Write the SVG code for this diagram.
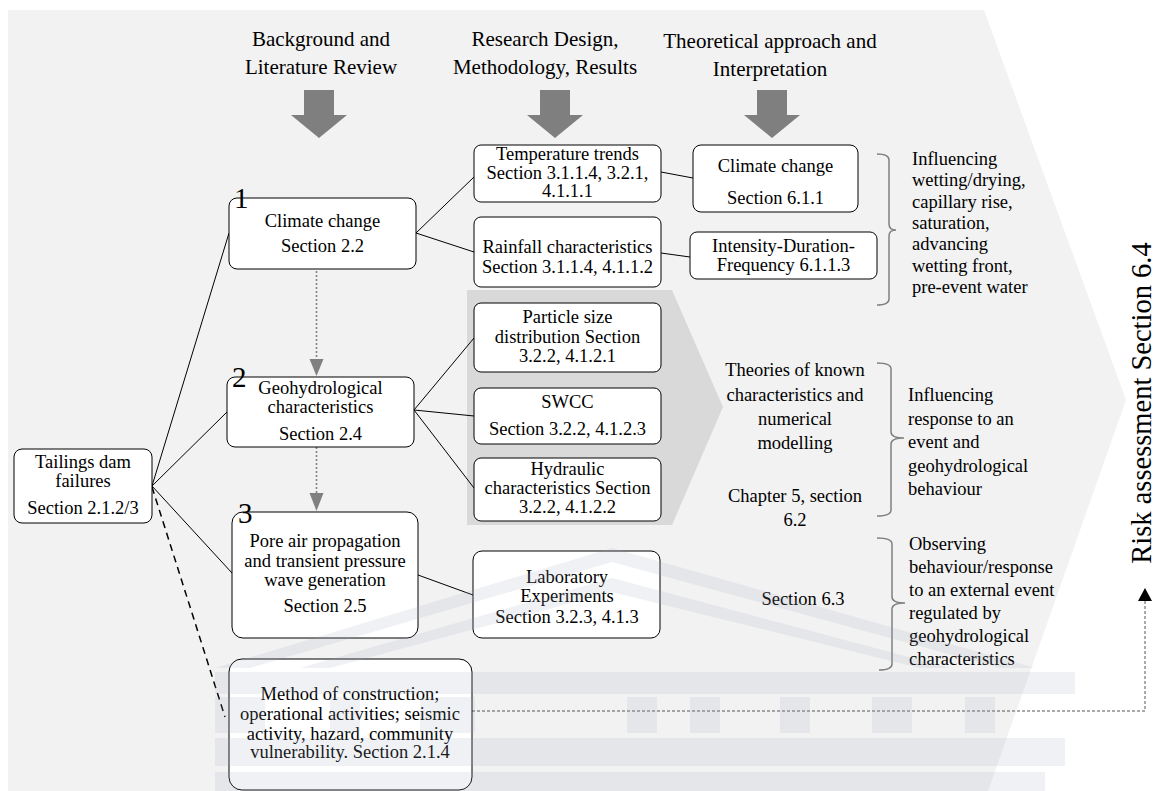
<svg xmlns="http://www.w3.org/2000/svg" width="1155" height="791" viewBox="0 0 1155 791">
<style>
text{font-family:"Liberation Serif","Times New Roman",Times,"DejaVu Serif","Noto Serif",serif;fill:#000}
.h{font-size:21px;text-anchor:middle}
.n{font-size:18.5px;text-anchor:middle}
.t{font-size:18.5px}
.num{font-size:29px}
.box{fill:#fff;stroke:#000;stroke-width:1}
.ln{stroke:#000;stroke-width:1;fill:none}
.br{stroke:#808080;stroke-width:1.5;fill:none}
.dot{stroke:#808080;stroke-width:1.6;stroke-dasharray:2 2;fill:none}
.bigarrow{fill:#7f7f7f}
.wm{fill:#a3a8bd;opacity:0.16}
</style>
<defs>
<path id="ba" d="M-15,0 H15 V25 H28 L0,48 L-28,25 H-15 Z"/>
</defs>
<rect width="1155" height="791" fill="#fff"/>
<polygon points="8,10 984,10 1126,400 988,791 8,791" fill="#f2f2f2"/>
<polygon points="467,290 672,290 723,407 672,525 467,525" fill="#d9d9d9"/>

<g id="headers" font-family="Liberation Serif, serif">
<text class="h" x="321" y="46">Background and</text>
<text class="h" x="321" y="74">Literature Review</text>
<text class="h" x="545" y="46">Research Design,</text>
<text class="h" x="545" y="74">Methodology, Results</text>
<text class="h" x="770" y="48">Theoretical approach and</text>
<text class="h" x="770" y="76">Interpretation</text>
<use href="#ba" class="bigarrow" x="319" y="90"/>
<use href="#ba" class="bigarrow" x="555" y="90"/>
<use href="#ba" class="bigarrow" x="772" y="90"/>
</g>

<g id="connectors">
<line class="ln" x1="152" y1="486" x2="229" y2="233"/>
<line class="ln" x1="152" y1="486" x2="227" y2="412"/>
<line class="ln" x1="152" y1="486" x2="232" y2="573"/>
<line x1="152" y1="487" x2="225" y2="717" stroke="#000" stroke-width="1.5" stroke-dasharray="7 5"/>
<line class="ln" x1="416" y1="233" x2="474" y2="177"/>
<line class="ln" x1="416" y1="233" x2="474" y2="252"/>
<line class="ln" x1="414" y1="410" x2="474" y2="338"/>
<line class="ln" x1="414" y1="410" x2="474" y2="416"/>
<line class="ln" x1="414" y1="410" x2="474" y2="488"/>
<line class="ln" x1="661" y1="172" x2="693" y2="178"/>
<line class="ln" x1="661" y1="253" x2="690" y2="257"/>
<line class="ln" x1="418" y1="575" x2="473" y2="595"/>
<line class="dot" x1="316.5" y1="271" x2="316.5" y2="360"/>
<polygon points="309.5,359 323.5,359 316.5,376" fill="#808080"/>
<line class="dot" x1="316.5" y1="447" x2="316.5" y2="494"/>
<polygon points="309.5,493 323.5,493 316.5,511" fill="#808080"/>
<polyline points="472,711 1145,711 1145,600" fill="none" stroke="#555" stroke-width="1" stroke-dasharray="3 2"/>
<polygon points="1138,601 1152,601 1145,588" fill="#000"/>
</g>

<g id="node-tailings">
<rect class="box" x="14" y="449" width="138" height="74" rx="8"/>
<text class="n" x="83" y="468">Tailings dam</text>
<text class="n" x="83" y="487">failures</text>
<text class="n" x="83" y="514">Section 2.1.2/3</text>
</g>
<g id="node-climate">
<rect class="box" x="229" y="198" width="187" height="71" rx="8"/>
<text class="n" x="322.5" y="227">Climate change</text>
<text class="n" x="322.5" y="252">Section 2.2</text>
<text class="num" x="234" y="208">1</text>
</g>
<g id="node-geo">
<rect class="box" x="227" y="377" width="187" height="70" rx="8"/>
<text class="n" x="320.5" y="394">Geohydrological</text>
<text class="n" x="320.5" y="413">characteristics</text>
<text class="n" x="320.5" y="440">Section 2.4</text>
<text class="num" x="232" y="387">2</text>
</g>
<g id="node-pore">
<rect class="box" x="232" y="512" width="186" height="126" rx="11"/>
<text class="n" x="325" y="547">Pore air propagation</text>
<text class="n" x="325" y="567">and transient pressure</text>
<text class="n" x="325" y="586">wave generation</text>
<text class="n" x="325" y="612">Section 2.5</text>
<text class="num" x="238" y="523">3</text>
</g>
<g id="node-method">
<rect class="box" x="229" y="659" width="243" height="131" rx="13"/>
<text class="n" x="350" y="700">Method of construction;</text>
<text class="n" x="350" y="720">operational activities; seismic</text>
<text class="n" x="350" y="740">activity, hazard, community</text>
<text class="n" x="350" y="758">vulnerability. Section 2.1.4</text>
</g>
<g id="node-temp">
<rect class="box" x="474" y="145" width="187" height="57" rx="7"/>
<text class="n" x="567.5" y="160">Temperature trends</text>
<text class="n" x="567.5" y="179">Section 3.1.1.4, 3.2.1,</text>
<text class="n" x="567.5" y="197">4.1.1.1</text>
</g>
<g id="node-rain">
<rect class="box" x="474" y="217" width="187" height="70" rx="7"/>
<text class="n" x="567.5" y="253">Rainfall characteristics</text>
<text class="n" x="567.5" y="273">Section 3.1.1.4, 4.1.1.2</text>
</g>
<g id="node-psd">
<rect class="box" x="474" y="303" width="187" height="69" rx="7"/>
<text class="n" x="567.5" y="323">Particle size</text>
<text class="n" x="567.5" y="343">distribution Section</text>
<text class="n" x="567.5" y="362">3.2.2, 4.1.2.1</text>
</g>
<g id="node-swcc">
<rect class="box" x="474" y="388" width="187" height="56" rx="7"/>
<text class="n" x="567.5" y="408">SWCC</text>
<text class="n" x="567.5" y="435">Section 3.2.2, 4.1.2.3</text>
</g>
<g id="node-hyd">
<rect class="box" x="474" y="458" width="187" height="63" rx="7"/>
<text class="n" x="567.5" y="475">Hydraulic</text>
<text class="n" x="567.5" y="494">characteristics Section</text>
<text class="n" x="567.5" y="513">3.2.2, 4.1.2.2</text>
</g>
<g id="node-lab">
<rect class="box" x="473" y="551" width="187" height="87" rx="9"/>
<text class="n" x="567" y="583">Laboratory</text>
<text class="n" x="567" y="602">Experiments</text>
<text class="n" x="567" y="623">Section 3.2.3, 4.1.3</text>
</g>
<g id="node-cc2">
<rect class="box" x="693" y="145" width="165" height="67" rx="8"/>
<text class="n" x="775.5" y="172">Climate change</text>
<text class="n" x="775.5" y="204">Section 6.1.1</text>
</g>
<g id="node-idf">
<rect class="box" x="690" y="232" width="187" height="47" rx="7"/>
<text class="n" x="783.5" y="252">Intensity-Duration-</text>
<text class="n" x="783.5" y="271">Frequency 6.1.1.3</text>
</g>

<g id="theory-text">
<text class="n" x="795" y="376">Theories of known</text>
<text class="n" x="795" y="401">characteristics and</text>
<text class="n" x="795" y="425">numerical</text>
<text class="n" x="795" y="449">modelling</text>
<text class="n" x="795" y="502">Chapter 5, section</text>
<text class="n" x="795" y="526">6.2</text>
<text class="n" x="803" y="605">Section 6.3</text>
</g>

<g id="braces">
<path class="br" d="M877,154 Q889,154 889,160 L889,224 Q889,230 896,230 Q889,230 889,236 L889,299 Q889,305 877,305"/>
<path class="br" d="M877,363 Q891,363 891,369 L891,432 Q891,438 904,438 Q891,438 891,444 L891,510 Q891,516 877,516"/>
<path class="br" d="M877,538 Q892,538 892,544 L892,597 Q892,603 905,603 Q892,603 892,609 L892,664 Q892,670 879,670"/>
</g>

<g id="brace-text-1">
<text class="t" x="912" y="165">Influencing</text>
<text class="t" x="912" y="186">wetting/drying,</text>
<text class="t" x="912" y="208">capillary rise,</text>
<text class="t" x="912" y="229">saturation,</text>
<text class="t" x="912" y="250">advancing</text>
<text class="t" x="912" y="272">wetting front,</text>
<text class="t" x="912" y="293">pre-event water</text>
</g>
<g id="brace-text-2">
<text class="t" x="908" y="401">Influencing</text>
<text class="t" x="908" y="425">response to an</text>
<text class="t" x="908" y="448">event and</text>
<text class="t" x="908" y="472">geohydrological</text>
<text class="t" x="908" y="495">behaviour</text>
</g>
<g id="brace-text-3">
<text class="t" x="909" y="550">Observing</text>
<text class="t" x="909" y="573">behaviour/response</text>
<text class="t" x="909" y="596">to an external event</text>
<text class="t" x="909" y="619">regulated by</text>
<text class="t" x="909" y="642">geohydrological</text>
<text class="t" x="909" y="665">characteristics</text>
</g>

<g id="risk">
<text x="1151" y="403" font-size="28.5" text-anchor="middle" transform="rotate(-90 1151 403)">Risk assessment Section 6.4</text>
</g>

<g id="watermark">
<polygon class="wm" points="215,668 612,548 1035,668 1000,668 612,562 250,668"/>
<polygon class="wm" points="300,668 612,578 950,668 920,668 612,592 330,668"/>
<rect class="wm" x="215" y="672" width="860" height="22"/>
<rect class="wm" x="215" y="697" width="50" height="36"/>
<rect class="wm" x="330" y="697" width="30" height="36"/>
<rect class="wm" x="420" y="697" width="55" height="36"/>
<rect class="wm" x="627" y="697" width="30" height="36"/>
<rect class="wm" x="690" y="697" width="30" height="36"/>
<rect class="wm" x="780" y="697" width="30" height="36"/>
<rect class="wm" x="872" y="697" width="40" height="36"/>
<rect class="wm" x="965" y="697" width="30" height="36"/>
<rect class="wm" x="215" y="738" width="850" height="28"/>
<rect class="wm" x="215" y="772" width="830" height="19" opacity="0.1"/>
</g>
</svg>
